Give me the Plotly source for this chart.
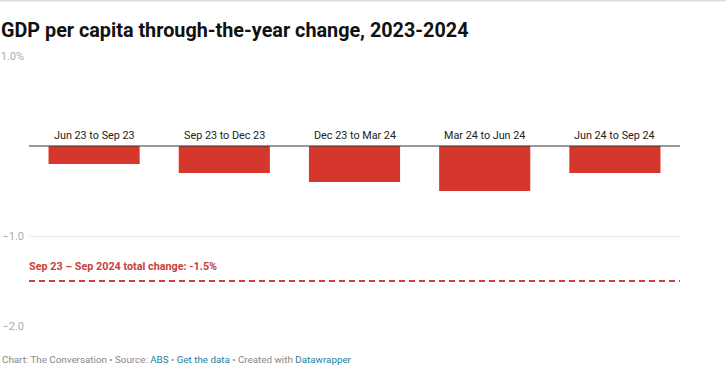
import plotly.graph_objects as go

categories = ["Jun 23 to Sep 23", "Sep 23 to Dec 23", "Dec 23 to Mar 24", "Mar 24 to Jun 24", "Jun 24 to Sep 24"]
values = [-0.2, -0.3, -0.4, -0.5, -0.3]
total_change = -1.5
tick_vals = [1.0, -1.0, -2.0]
tick_text = ["1.0%", "\u22121.0", "\u22122.0"]

W, H = 726, 380
ML, MR, MT, MB = 29, 46, 56, 54
plot_h = H - MT - MB
plot_w = W - ML - MR

fig = go.Figure()
fig.add_trace(go.Bar(
    x=list(range(len(categories))), y=values,
    marker=dict(color="#d5372c", line=dict(width=0)),
    hoverinfo="skip", showlegend=False,
))

# dashed total line
fig.add_shape(type="line", xref="paper", yref="y", x0=0, x1=1, y0=total_change, y1=total_change,
              line=dict(color="#c8413a", width=2, dash="6px,4px"))
# zero line
fig.add_shape(type="line", xref="paper", yref="y", x0=0, x1=1, y0=0, y1=0,
              line=dict(color="#333333", width=1))
# top border
top_paper = 1 + (MT - 0.5) / plot_h
fig.add_shape(type="line", xref="paper", yref="paper", x0=-ML / plot_w, x1=1 + MR / plot_w,
              y0=top_paper, y1=top_paper, line=dict(color="#dddddd", width=2))

annotations = []
for i, c in enumerate(categories):
    annotations.append(dict(x=i, y=0, xref="x", yref="y", text=c, showarrow=False,
                            yanchor="bottom", yshift=2, font=dict(family="Roboto", size=10.8, color="#222222")))

annotations.append(dict(x=0, y=total_change, xref="paper", yref="y", text="<b>Sep 23 \u2013 Sep 2024 total change: -1.5%</b>",
                        showarrow=False, xanchor="left", yanchor="bottom", yshift=6, xshift=-2,
                        font=dict(family="Roboto", size=10.8, color="#c8413a")))

annotations.append(dict(x=0, y=0, xref="paper", yref="paper", text="<b>GDP per capita through-the-year change, 2023-2024</b>",
                        showarrow=False, xanchor="left", yanchor="middle", xshift=-ML - 1, yshift=plot_h + MT - 30,
                        font=dict(family="Roboto", size=19.8, color="#111111")))

link = "#1d81a2"
footer = ("Chart: The Conversation \u2022 Source: <span style='color:%s'>ABS</span> \u2022 "
          "<span style='color:%s'>Get the data</span> \u2022 Created with <span style='color:%s'>Datawrapper</span>") % (link, link, link)
annotations.append(dict(x=0, y=0, xref="paper", yref="paper", text=footer,
                        showarrow=False, xanchor="left", yanchor="middle", xshift=-ML, yshift=-(359 - (H - MB)),
                        font=dict(family="Roboto", size=9.8, color="#888888")))

fig.update_layout(
    width=W, height=H,
    margin=dict(l=ML, r=MR, t=MT, b=MB, pad=0, autoexpand=False),
    paper_bgcolor="white", plot_bgcolor="white",
    bargap=0.3,
    annotations=annotations,
    xaxis=dict(range=[-0.5, len(categories) - 0.5], showticklabels=False, showgrid=False,
               zeroline=False, showline=False, fixedrange=True, automargin=False),
    yaxis=dict(range=[-2, 1], tickvals=tick_vals, ticktext=tick_text, showgrid=True,
               gridcolor="#e6e6e6", gridwidth=1, zeroline=False, showline=False, ticks="",
               ticklabelstandoff=4, automargin=False,
               tickfont=dict(family="Roboto", size=11, color="#aaaaaa"), fixedrange=True),
    font=dict(family="Roboto"),
)

fig.write_html("out.html", config={"displayModeBar": False},
               post_script="document.body.style.margin='0';document.body.style.padding='0';")
